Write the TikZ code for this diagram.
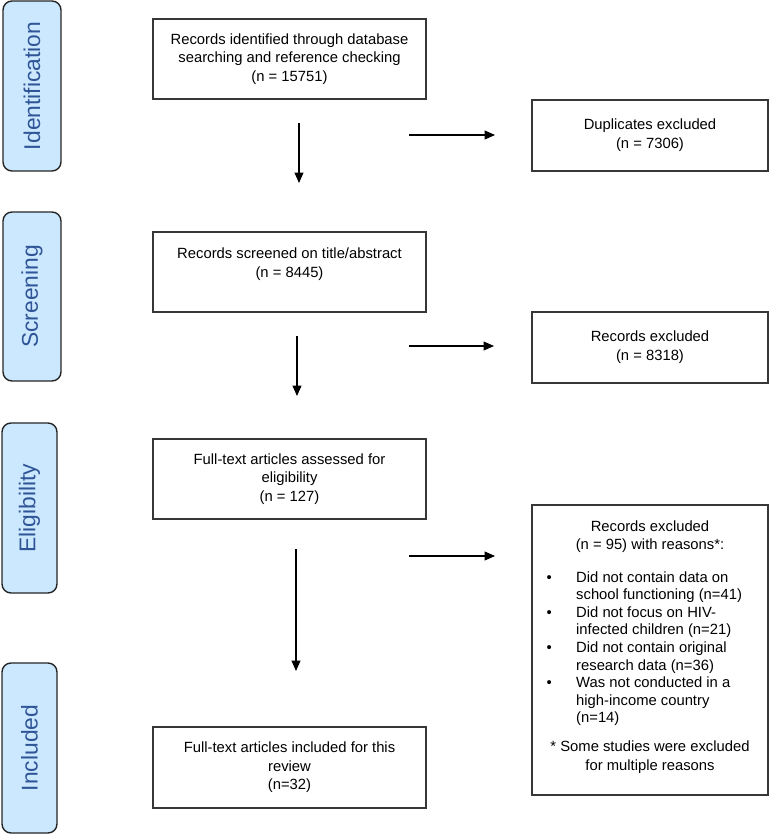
\documentclass[tikz,border=0pt]{standalone}
\usepackage{fontspec}
\setmainfont{Liberation Sans}
\usetikzlibrary{arrows.meta}
\definecolor{sidefill}{RGB}{204,232,255}
\definecolor{sidetext}{RGB}{47,85,151}
\definecolor{boxline}{RGB}{55,55,55}
\begin{document}
\begin{tikzpicture}[x=1pt,y=-1pt,
  sidebox/.style={draw=black!85, line width=1.4pt, fill=sidefill, rounded corners=9pt,
    rotate=90, minimum width=170pt, inner sep=0pt, text=sidetext,
    font=\fontsize{22.8}{26}\selectfont},
  mainbox/.style={draw=boxline, line width=1.5pt, minimum width=273pt, minimum height=80pt,
    align=center, inner sep=0pt, font=\fontsize{14.8}{18.5}\selectfont},
  rightbox/.style={draw=boxline, line width=1.5pt, minimum width=236pt, minimum height=71pt,
    align=center, inner sep=0pt, font=\fontsize{14.8}{19}\selectfont},
  txt/.style={inner sep=0pt, align=center},
  arr/.style={line width=1.3pt, -{Triangle[length=10.5pt,width=9pt]}}
]
\useasboundingbox (0,0) rectangle (769,835);

% phase labels
\node[sidebox, minimum height=58pt] (sid) at (32,86) {Identification};
\node[sidebox, minimum height=58pt, minimum width=169pt] (sscr) at (32,296.5) {Screening};
\node[sidebox, minimum height=55pt] (seli) at (29.5,508) {Eligibility};
\node[sidebox, minimum height=55pt] (sinc) at (29.5,748) {Included};

% main column
\node[mainbox] (b1) at (289.5,59) {Records identified through database\\searching and reference checking\\(n = 15751)};
\node[mainbox] (b2) at (289.5,272) {Records screened on title/abstract\\(n = 8445)\\\mbox{}};
\node[mainbox] (b3) at (289.5,479) {Full-text articles assessed for\\eligibility\\(n = 127)};
\node[mainbox, minimum height=81pt] (b4) at (289.5,767.5) {Full-text articles included for this\\review\\(n=32)};

% right column
\node[rightbox] (dup) at (650,135.5) {Duplicates excluded\\(n = 7306)};
\node[rightbox] (rex) at (650,347.5) {Records excluded\\(n = 8318)};
\node[draw=boxline, line width=1.5pt, minimum width=236pt, minimum height=290pt, inner sep=0pt] (big) at (650,650) {};
\node[txt, font=\fontsize{14.8}{18}\selectfont] (bighead) at (650,537) {Records excluded\\(n = 95) with reasons*:};
\node[inner sep=0pt, anchor=base west, font=\fontsize{14.8}{17.6}\selectfont] (biglist) at (546.4,582) {%
\renewcommand{\arraystretch}{1}%
\begin{tabular}[t]{@{}p{29.6pt}@{}l@{}}
\textbullet & Did not contain data on\\
 & school functioning (n=41)\\
\textbullet & Did not focus on HIV-\\
 & infected children (n=21)\\
\textbullet & Did not contain original\\
 & research data (n=36)\\
\textbullet & Was not conducted in a\\
 & high-income country\\
 & (n=14)
\end{tabular}};
\node[txt, font=\fontsize{14.8}{19}\selectfont] (bigfoot) at (650,757.5) {* Some studies were excluded\\for multiple reasons};

% arrows
\coordinate (v1a) at (299,123); \coordinate (v1b) at (299,183);
\coordinate (h1a) at (409,135); \coordinate (h1b) at (495,135);
\coordinate (v2a) at (297,336); \coordinate (v2b) at (297,396);
\coordinate (h2a) at (409,346); \coordinate (h2b) at (494,346);
\coordinate (v3a) at (296,549); \coordinate (v3b) at (296,671);
\coordinate (h3a) at (409,556); \coordinate (h3b) at (495,556);
\draw[arr] (v1a) -- (v1b);
\draw[arr] (h1a) -- (h1b);
\draw[arr] (v2a) -- (v2b);
\draw[arr] (h2a) -- (h2b);
\draw[arr] (v3a) -- (v3b);
\draw[arr] (h3a) -- (h3b);
\end{tikzpicture}
\end{document}
